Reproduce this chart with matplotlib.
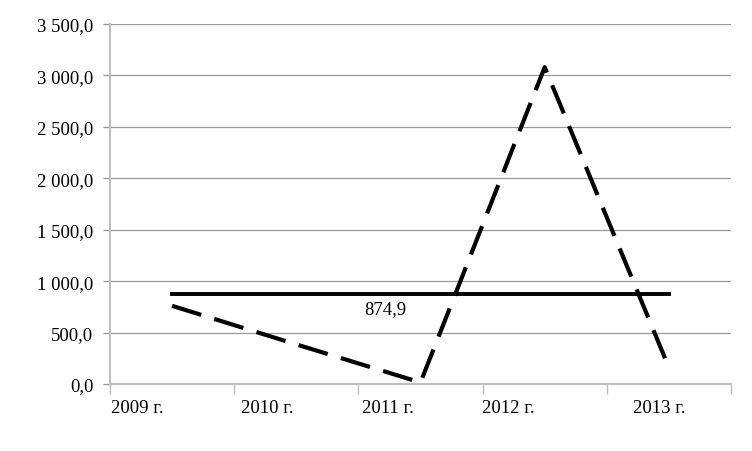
import numpy as np
from matplotlib import pyplot as plt

# Data
years = ['2009 г.', '2010 г.', '2011 г.', '2012 г.', '2013 г.']
values = [760, 385, 15, 3080, 160]
mean_value = 874.9
mean_label = '874,9'

# Label positions inside each category (fraction of category width)
label_offsets = [0.22, 0.27, 0.24, 0.21, 0.42]

plt.rcParams['font.family'] = ['Liberation Serif', 'DejaVu Serif']

fig = plt.figure(figsize=(7.52, 4.52), dpi=100)
ax = fig.add_axes([110 / 752, 1 - 385 / 452, 621 / 752, 360 / 452])

x = np.arange(len(years)) + 0.5

# Gridlines
ax.set_ylim(0, 3500)
ax.set_xlim(0, len(years))
ax.set_yticks(np.arange(0, 3501, 500))
ax.set_yticklabels([f'{v:,.1f}'.replace(',', ' ').replace('.', ',') for v in np.arange(0, 3501, 500)],
                   fontsize=13.5)
ax.yaxis.grid(True, color='#9a9a9a', linewidth=0.9)
ax.set_axisbelow(True)

# Lines
ax.plot(x, values, color='black', linewidth=3, dashes=(7.3, 3.3), solid_capstyle='butt')
ax.plot([x[0], x[-1]], [mean_value, mean_value], color='black', linewidth=2.8)
ax.text(2.22, mean_value - 60, mean_label, fontsize=13.5, ha='center', va='top')

# Category ticks at the boundaries, labels placed by hand
ax.set_xticks(np.arange(len(years) + 1))
ax.set_xticklabels([])
for i, (lab, off) in enumerate(zip(years, label_offsets)):
    ax.text(i + off, -150, lab, fontsize=13.5, ha='center', va='top')

for side in ['top', 'right']:
    ax.spines[side].set_visible(False)
ax.spines['left'].set_color('#bfbfbf')
ax.spines['left'].set_linewidth(1.5)
ax.spines['bottom'].set_color('#bfbfbf')
ax.spines['bottom'].set_linewidth(1.5)
ax.tick_params(axis='x', length=7, width=1, color='#bfbfbf')
ax.tick_params(axis='y', length=5, width=1, color='#9a9a9a', pad=7)

plt.savefig('out.png', dpi=100)
